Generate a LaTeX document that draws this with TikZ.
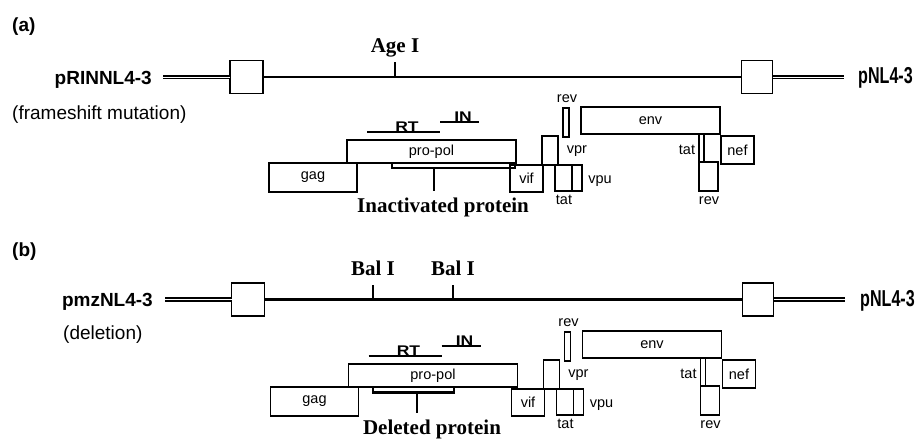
\documentclass[tikz,border=0pt]{standalone}
\usepackage{fontspec}
\setmainfont{Liberation Sans}
\newfontfamily\serifbf{Liberation Serif}
\newfontfamily\condbf{Liberation Sans}[FakeStretch=0.7]
\newfontfamily\widebf{Liberation Sans}[FakeStretch=1.25]
\tikzset{
  gbox/.style={draw, line width=1.2pt, fill=white, inner sep=0pt, outer sep=0pt,
    anchor=north west, font=\fontsize{14.5}{17}\selectfont},
  glabel/.style={inner sep=0pt, anchor=base, font=\fontsize{14.5}{17}\selectfont},
  ltrbox/.style={draw, line width=1.5pt, fill=white, inner sep=0pt, outer sep=0pt,
    minimum width=33pt, minimum height=33pt},
  mainline/.style={line width=2.3pt},
  dline/.style={double, double distance=1pt, line width=1.6pt},
  sitetick/.style={line width=2pt},
  bracketline/.style={line width=2.2pt},
  subline/.style={line width=1.5pt},
  tag/.style={inner sep=0pt, font=\bfseries\fontsize{19}{22}\selectfont},
  plasmid/.style={inner sep=0pt, font=\bfseries\fontsize{19}{22}\selectfont},
  sublbl/.style={inner sep=0pt, font=\fontsize{19}{22}\selectfont},
  condlbl/.style={inner sep=0pt, font=\condbf\bfseries\fontsize{23}{26}\selectfont},
  sitelbl/.style={inner sep=0pt, anchor=base, font=\serifbf\bfseries\fontsize{21}{24}\selectfont},
  domlbl/.style={inner sep=0pt, anchor=base, font=\widebf\bfseries\fontsize{14}{16}\selectfont},
}
\newcommand\hivgenes[1]{%
  \node[gbox, minimum width=88pt, minimum height=29pt] (#1gag) at (269,163) {gag};
  \node[gbox, minimum width=169pt, minimum height=23pt] (#1propol) at (347,140) {pro-pol};
  \node[gbox, minimum width=33pt, minimum height=27pt] (#1vif) at (510,165) {vif};
  \node[gbox, minimum width=16pt, minimum height=29pt] (#1vpr) at (542,136) {};
  \node[gbox, minimum width=17pt, minimum height=26pt] (#1tatA) at (555,165) {};
  \node[gbox, minimum width=10pt, minimum height=26pt] (#1vpu) at (572,165) {};
  \node[gbox, minimum width=6pt, minimum height=29pt] (#1revA) at (563,108) {};
  \node[gbox, minimum width=139pt, minimum height=27pt] (#1env) at (581,107) {env};
  \node[gbox, minimum width=5pt, minimum height=28pt] (#1tatB) at (699,134) {};
  \node[gbox, minimum width=19pt, minimum height=29pt] (#1revB) at (699,162) {};
  \node[gbox, minimum width=33pt, minimum height=28pt] (#1nef) at (721,136) {nef};
  \node[glabel] (#1revAl) at (567,102) {rev};
  \node[glabel] (#1vprl) at (577,153) {vpr};
  \node[glabel] (#1vpul) at (600,183) {vpu};
  \node[glabel] (#1tatAl) at (564,204) {tat};
  \node[glabel] (#1tatBl) at (687,154) {tat};
  \node[glabel] (#1revBl) at (709,204) {rev};
  \coordinate (#1rt1) at (367,132);
  \coordinate (#1rt2) at (440,132);
  \coordinate (#1in1) at (440,122);
  \coordinate (#1in2) at (479,122);
  \node[domlbl] (#1rt) at (407,131.5) {RT};
  \node[domlbl] (#1in) at (463,121) {IN};
  \draw[subline] (#1rt1) -- (#1rt2);
  \draw[subline] (#1in1) -- (#1in2);
}
\begin{document}
\begin{tikzpicture}[x=1pt,y=-1pt]
\useasboundingbox (0,0) rectangle (916,440);
\fill[white] (0,0) rectangle (916,440);

% ---------------- panel (a)
\node[tag, anchor=base west] (a-tag) at (12,31) {(a)};
\node[plasmid, anchor=base east] (a-name) at (152,84.5) {pRINNL4-3};
\node[sublbl, anchor=base west] (a-sub) at (12,119.3) {(frameshift mutation)};
\coordinate (a-l0) at (163,77);
\coordinate (a-r0) at (844,77);
\node[ltrbox] (a-ltr1) at (246.5,77) {};
\node[ltrbox, minimum width=31pt] (a-ltr2) at (757,77) {};
\draw[dline] (a-l0) -- (a-ltr1.west);
\draw[mainline] (a-ltr1.east) -- (a-ltr2.west);
\draw[dline] (a-ltr2.east) -- (a-r0);
\node[condlbl, anchor=base west] (a-pnl) at (858,83) {pNL4-3};
\coordinate (a-s1) at (395,77);
\coordinate (a-s1t) at (395,62);
\draw[sitetick] (a-s1) -- (a-s1t);
\node[sitelbl] (a-site1) at (395,52) {Age I};
\hivgenes{a-}
\coordinate (a-b1) at (392,163);
\coordinate (a-b2) at (392,168);
\coordinate (a-b3) at (515,168);
\coordinate (a-b4) at (515,163);
\coordinate (a-st1) at (434,168);
\coordinate (a-st2) at (434,191);
\draw[bracketline] (a-b1) -- (a-b2) -- (a-b3) -- (a-b4);
\draw[bracketline] (a-st1) -- (a-st2);
\node[sitelbl] (a-prot) at (443,212.5) {Inactivated protein};

% ---------------- panel (b)
\node[tag, anchor=base west] (b-tag) at (12,256) {(b)};
\node[plasmid, anchor=base east] (b-name) at (153,306) {pmzNL4-3};
\node[sublbl, anchor=base west] (b-sub) at (63,339.3) {(deletion)};
\coordinate (b-l0) at (165,299.5);
\coordinate (b-r0) at (845,299.5);
\node[ltrbox] (b-ltr1) at (248,299.5) {};
\node[ltrbox, minimum width=31pt] (b-ltr2) at (758,299.5) {};
\draw[dline] (b-l0) -- (b-ltr1.west);
\draw[mainline] (b-ltr1.east) -- (b-ltr2.west);
\draw[dline] (b-ltr2.east) -- (b-r0);
\node[condlbl, anchor=base west] (b-pnl) at (860,306) {pNL4-3};
\coordinate (b-s1) at (373,299.5);
\coordinate (b-s1t) at (373,285);
\coordinate (b-s2) at (453,299.5);
\coordinate (b-s2t) at (453,285);
\draw[sitetick] (b-s1) -- (b-s1t);
\draw[sitetick] (b-s2) -- (b-s2t);
\node[sitelbl] (b-site1) at (373,275) {Bal I};
\node[sitelbl] (b-site2) at (453,275) {Bal I};
\begin{scope}[shift={(1.5,224)}]
\hivgenes{b-}
\end{scope}
\coordinate (b-b1) at (373,387);
\coordinate (b-b2) at (373,392.5);
\coordinate (b-b3) at (454,392.5);
\coordinate (b-b4) at (454,387);
\coordinate (b-st1) at (417,392.5);
\coordinate (b-st2) at (417,413);
\draw[bracketline] (b-b1) -- (b-b2) -- (b-b3) -- (b-b4);
\draw[bracketline] (b-st1) -- (b-st2);
\node[sitelbl] (b-prot) at (432,434.5) {Deleted protein};
\end{tikzpicture}
\end{document}
